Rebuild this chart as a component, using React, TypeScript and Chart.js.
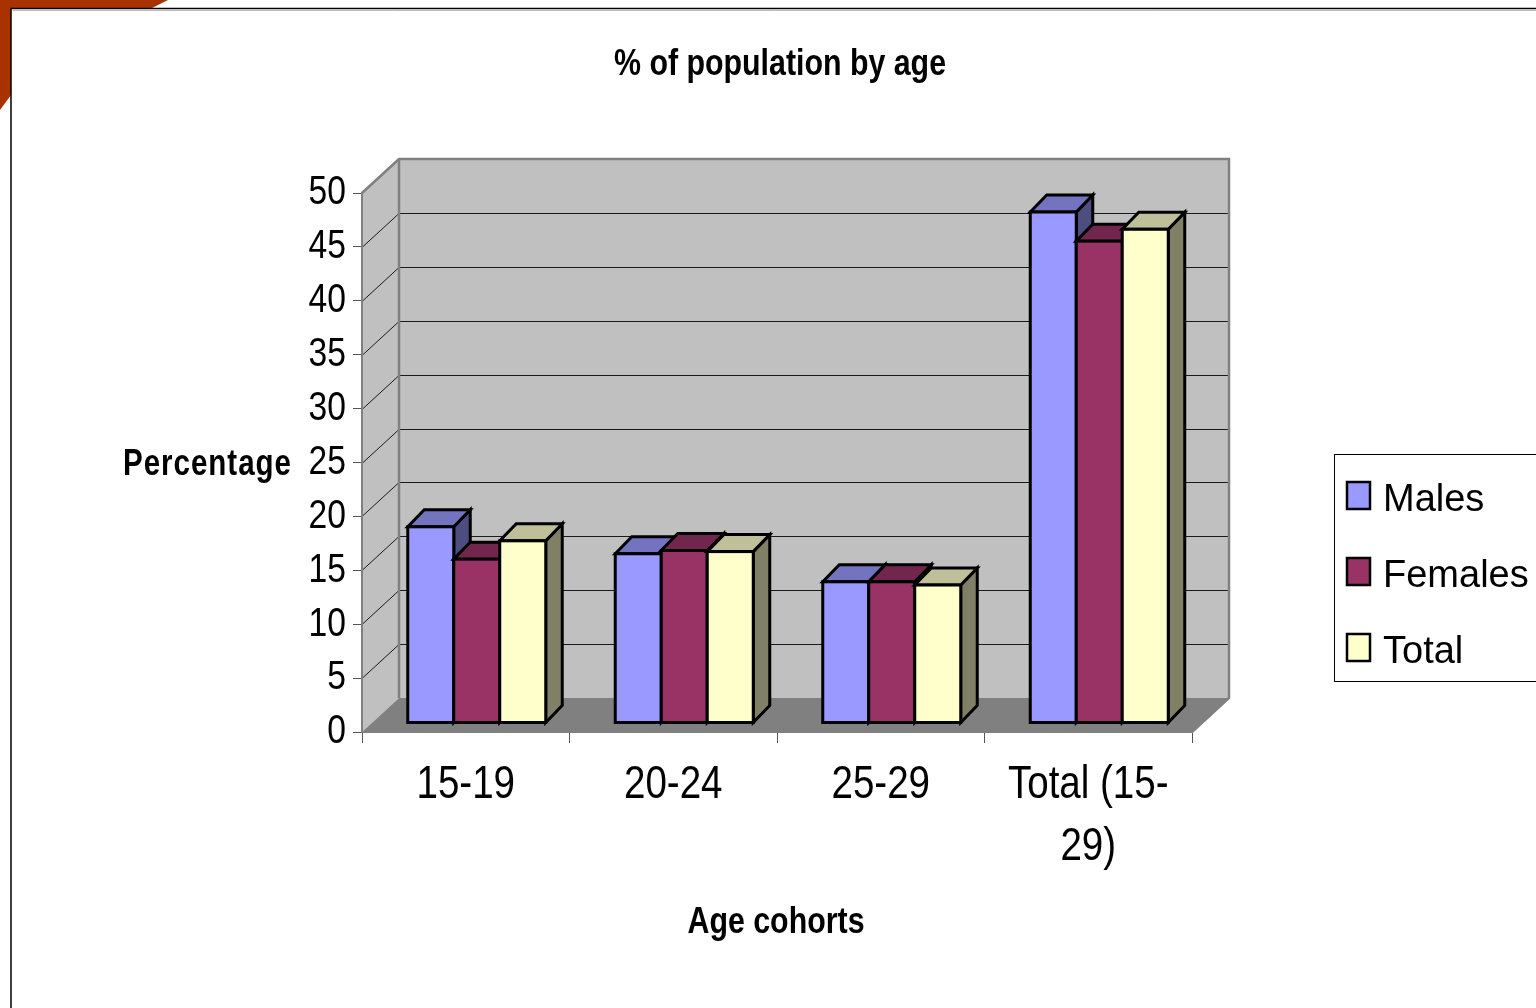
import React, { useEffect, useRef } from 'react';
import { Chart, registerables } from 'chart.js';

Chart.register(...registerables);

// ---------- data ----------
const categories: (string | string[])[] = ['15-19', '20-24', '25-29', ['Total (15-', '29)']];
const seriesNames = ['Males', 'Females', 'Total'];
const malesValues = [18.2, 15.7, 13.1, 47.4];
const femalesValues = [15.2, 16.0, 13.1, 44.7];
const totalValues = [16.9, 15.9, 12.8, 45.8];
const seriesColors = ['#9999FF', '#993366', '#FFFFCC'];
const yMin = 0;
const yMax = 50;
const yStep = 5;

const chartTitle = '% of population by age';
const yAxisTitle = 'Percentage';
const xAxisTitle = 'Age cohorts';

// ---------- styling ----------
const SANS = '"Liberation Sans", Arial, sans-serif';
const NARROW_SX = 0.82;
const W = 1536;
const H = 1008;
const Y_AXIS_W = 120;
const X_AXIS_H = 150;

const DEPTH_DX = 37;
const DEPTH_DY = -34;
const BAR_DX = 11;
const BAR_DY = -9;
const BAR_DEPTH_DX = 16.5;
const BAR_DEPTH_DY = -17;

function shade(hex: string, f: number): string {
  const h = hex.replace('#', '');
  const r = Math.round(parseInt(h.slice(0, 2), 16) * f);
  const g = Math.round(parseInt(h.slice(2, 4), 16) * f);
  const b = Math.round(parseInt(h.slice(4, 6), 16) * f);
  return `rgb(${r},${g},${b})`;
}

function poly(ctx: CanvasRenderingContext2D, pts: number[][]) {
  ctx.beginPath();
  ctx.moveTo(pts[0][0], pts[0][1]);
  for (let i = 1; i < pts.length; i++) ctx.lineTo(pts[i][0], pts[i][1]);
  ctx.closePath();
}

function narrowText(
  ctx: CanvasRenderingContext2D,
  text: string,
  x: number,
  y: number,
  font: string,
  align: CanvasTextAlign,
  baseline: CanvasTextBaseline,
  spacing = '0px'
) {
  ctx.save();
  ctx.translate(x, y);
  ctx.scale(NARROW_SX, 1);
  ctx.font = font;
  try { (ctx as any).letterSpacing = spacing; } catch (e) { /* ignore */ }
  ctx.textAlign = align;
  ctx.textBaseline = baseline;
  ctx.fillStyle = '#000';
  ctx.fillText(text, 0, 0);
  ctx.restore();
}

function barRects(chart: any, index: number) {
  const meta = chart.getDatasetMeta(index);
  return meta.data.map((el: any) => {
    const p = el.getProps(['x', 'y', 'base', 'width'], true);
    const l = p.x - p.width / 2 + BAR_DX;
    const r = p.x + p.width / 2 + BAR_DX;
    const t = Math.min(p.y, p.base) + BAR_DY;
    const b = Math.max(p.y, p.base) + BAR_DY;
    return { l, r, t, b };
  });
}

const threeDPlugin = {
  id: 'threeD',
  beforeDraw(chart: any) {
    const { ctx, chartArea: a } = chart;
    const yScale = chart.scales.y;
    ctx.save();
    ctx.fillStyle = '#ffffff';
    ctx.fillRect(0, 0, chart.width, chart.height);

    // decorative corner
    ctx.fillStyle = '#A83200';
    poly(ctx, [[0, 0], [168, 0], [150, 9], [11, 9], [11, 95], [0, 110]]);
    ctx.fill();

    // frame
    ctx.strokeStyle = '#000';
    ctx.lineWidth = 1.5;
    ctx.beginPath();
    ctx.moveTo(11, H);
    ctx.lineTo(11, 8.5);
    ctx.lineTo(W, 8.5);
    ctx.stroke();
    ctx.strokeStyle = '#bbbbbb';
    ctx.lineWidth = 1;
    ctx.beginPath();
    ctx.moveTo(12.5, 10.5);
    ctx.lineTo(W, 10.5);
    ctx.stroke();

    const L = a.left, R = a.right, T = a.top, B = a.bottom;
    // side wall
    ctx.fillStyle = '#C0C0C0';
    poly(ctx, [[L, T], [L + DEPTH_DX, T + DEPTH_DY], [L + DEPTH_DX, B + DEPTH_DY], [L, B]]);
    ctx.fill();
    // back wall
    ctx.fillRect(L + DEPTH_DX, T + DEPTH_DY, R - L, B - T);
    // floor
    ctx.fillStyle = '#808080';
    poly(ctx, [[L, B], [L + DEPTH_DX, B + DEPTH_DY], [R + DEPTH_DX, B + DEPTH_DY], [R, B]]);
    ctx.fill();

    // gridlines
    ctx.strokeStyle = '#1a1a1a';
    ctx.lineWidth = 1;
    yScale.ticks.forEach((tk: any) => {
      if (tk.value === yMin || tk.value === yMax) return;
      const yf = Math.round(yScale.getPixelForValue(tk.value)) + 0.5;
      ctx.beginPath();
      ctx.moveTo(L, yf);
      ctx.lineTo(L + DEPTH_DX, yf + DEPTH_DY);
      ctx.lineTo(R + DEPTH_DX, yf + DEPTH_DY);
      ctx.stroke();
    });

    // wall edges
    ctx.strokeStyle = '#808080';
    ctx.lineWidth = 2.5;
    ctx.beginPath();
    ctx.moveTo(L, T);
    ctx.lineTo(L + DEPTH_DX, T + DEPTH_DY);
    ctx.lineTo(R + DEPTH_DX, T + DEPTH_DY);
    ctx.lineTo(R + DEPTH_DX, B + DEPTH_DY);
    ctx.lineTo(R, B);
    ctx.moveTo(L + DEPTH_DX, T + DEPTH_DY);
    ctx.lineTo(L + DEPTH_DX, B + DEPTH_DY);
    ctx.stroke();
    ctx.restore();
  },
  beforeDatasetDraw() {
    // bars are drawn as 3D blocks in afterDatasetsDraw (left-to-right order)
    return false;
  },
  afterDatasetsDraw(chart: any) {
    const { ctx } = chart;
    ctx.save();
    ctx.lineWidth = 3;
    ctx.strokeStyle = '#000';
    ctx.lineJoin = 'miter';
    chart.data.datasets.forEach((ds: any, i: number) => {
      const col = ds.backgroundColor as string;
      barRects(chart, i).forEach(({ l, r, t, b }: any) => {
        // side face
        poly(ctx, [[r, t], [r + BAR_DEPTH_DX, t + BAR_DEPTH_DY], [r + BAR_DEPTH_DX, b + BAR_DEPTH_DY], [r, b]]);
        ctx.fillStyle = shade(col, 0.5);
        ctx.fill();
        ctx.stroke();
        // top face
        poly(ctx, [[l, t], [l + BAR_DEPTH_DX, t + BAR_DEPTH_DY], [r + BAR_DEPTH_DX, t + BAR_DEPTH_DY], [r, t]]);
        ctx.fillStyle = shade(col, 0.75);
        ctx.fill();
        ctx.stroke();
        // front face
        ctx.fillStyle = col;
        ctx.fillRect(l, t, r - l, b - t);
        ctx.strokeRect(l, t, r - l, b - t);
      });
    });
    ctx.restore();
  },
  afterDraw(chart: any) {
    const { ctx } = chart;
    const xScale = chart.scales.x;
    const yScale = chart.scales.y;
    ctx.save();

    // y tick labels
    yScale.ticks.forEach((tk: any, i: number) => {
      const py = yScale.getPixelForTick(i);
      narrowText(ctx, String(tk.label), yScale.right - 9 - 7, py, `41px ${SANS}`, 'right', 'middle');
    });

    // x tick labels
    const xLine = 62;
    xScale.ticks.forEach((_tk: any, i: number) => {
      const px = xScale.getPixelForTick(i);
      const lab = chart.data.labels[i];
      const lines = Array.isArray(lab) ? lab : [lab];
      lines.forEach((ln: string, j: number) => {
        narrowText(ctx, ln, px, xScale.top + 53 + j * xLine, `47px ${SANS}`, 'center', 'middle');
      });
    });

    // titles
    narrowText(ctx, chartTitle, 780, 75, `bold 37px ${SANS}`, 'center', 'alphabetic');
    narrowText(ctx, xAxisTitle, 776, 933, `bold 37px ${SANS}`, 'center', 'alphabetic');
    narrowText(ctx, yAxisTitle, 123, 475, `bold 36px ${SANS}`, 'left', 'alphabetic', '1.2px');

    // legend
    const boxL = 1334.5, boxT = 454.5, boxH = 227;
    ctx.fillStyle = '#ffffff';
    ctx.fillRect(boxL, boxT, 400, boxH);
    ctx.strokeStyle = '#000';
    ctx.lineWidth = 1;
    ctx.strokeRect(boxL, boxT, 400, boxH);
    ctx.font = `38px ${SANS}`;
    ctx.textAlign = 'left';
    ctx.textBaseline = 'alphabetic';
    chart.data.datasets.forEach((ds: any, i: number) => {
      const base = 511 + i * 76;
      ctx.fillStyle = ds.backgroundColor;
      ctx.fillRect(1347, base - 29, 23, 27);
      ctx.lineWidth = 2.5;
      ctx.strokeStyle = '#000';
      ctx.strokeRect(1347, base - 29, 23, 27);
      ctx.fillStyle = '#000';
      ctx.fillText(ds.label, 1383, base);
    });
    ctx.restore();
  },
};

export default function App() {
  const canvasRef = useRef<HTMLCanvasElement | null>(null);

  useEffect(() => {
    if (!canvasRef.current) return;
    const seriesValues = [malesValues, femalesValues, totalValues];
    const chart = new Chart(canvasRef.current, {
      type: 'bar',
      data: {
        labels: categories as any,
        datasets: seriesNames.map((name, i) => ({
          label: name,
          data: seriesValues[i],
          backgroundColor: seriesColors[i],
          borderWidth: 0,
          categoryPercentage: 0.665,
          barPercentage: 1,
        })),
      },
      options: {
        responsive: false,
        animation: false,
        events: [],
        layout: {
          padding: {
            left: 362 - Y_AXIS_W,
            right: W - 1192,
            top: 193,
            bottom: H - 732 - X_AXIS_H,
          },
        },
        plugins: {
          legend: { display: false },
          title: { display: false },
          tooltip: { enabled: false },
        },
        scales: {
          x: {
            grid: {
              display: true,
              drawOnChartArea: false,
              drawTicks: true,
              tickLength: 11,
              color: '#555',
              lineWidth: 1,
              offset: true,
            },
            border: { display: true, color: '#808080', width: 2 },
            ticks: { display: false, autoSkip: false, maxRotation: 0 },
            afterFit: (s: any) => {
              s.height = X_AXIS_H;
            },
          },
          y: {
            min: yMin,
            max: yMax,
            ticks: { display: false, stepSize: yStep },
            grid: {
              drawOnChartArea: false,
              drawTicks: true,
              tickLength: 9,
              color: '#555',
              lineWidth: 1,
            },
            border: { display: true, color: '#808080', width: 2 },
            afterFit: (s: any) => {
              s.width = Y_AXIS_W;
            },
          },
        },
      },
      plugins: [threeDPlugin],
    });
    return () => chart.destroy();
  }, []);

  return (
    <div style={{ position: 'fixed', left: 0, top: 0, width: W, height: H, overflow: 'hidden', background: '#fff' }}>
      <canvas ref={canvasRef} width={W} height={H} style={{ display: 'block', width: W, height: H }} />
    </div>
  );
}
